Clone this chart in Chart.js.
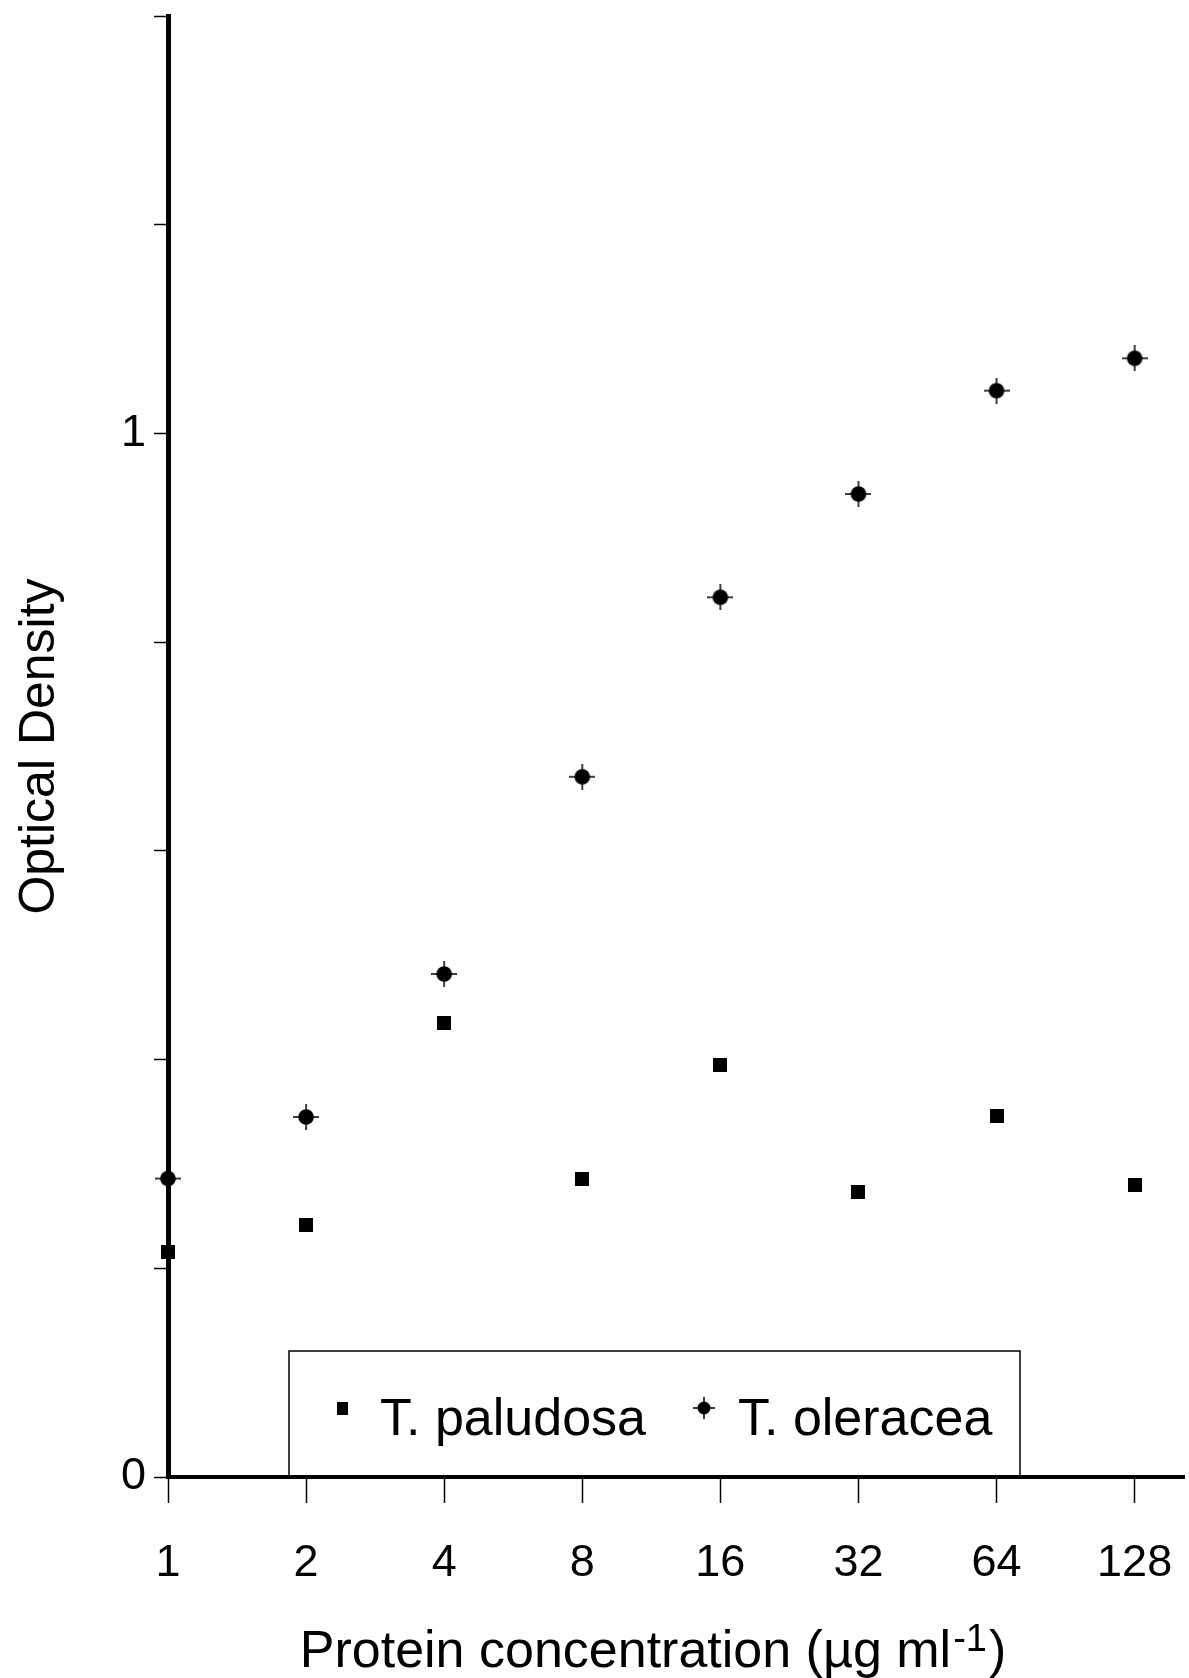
<!DOCTYPE html>
<html><head><meta charset="utf-8">
<script src="https://cdn.jsdelivr.net/npm/chart.js@4.4.0/dist/chart.umd.min.js"></script>
<style>html,body{margin:0;padding:0;background:#fff;overflow:hidden;}#wrap{width:1189px;height:1678px;}</style>
</head><body><div id="wrap"><canvas id="c" width="1189" height="1678"></canvas></div>
<script>
const concentrations = [1, 2, 4, 8, 16, 32, 64, 128];
const paludosa = [0.216, 0.241, 0.435, 0.286, 0.395, 0.273, 0.346, 0.280];
const oleracea = [0.286, 0.345, 0.482, 0.671, 0.843, 0.942, 1.041, 1.072];
const seriesNames = ['T. paludosa', 'T. oleracea'];
const xTickLabels = ['1', '2', '4', '8', '16', '32', '64', '128'];
const yTickValues = [0, 0.2, 0.4, 0.6, 0.8, 1.0, 1.2, 1.4];
const yTickLabels = ['0', '', '', '', '', '1', '', ''];
const xAxisTitle = 'Protein concentration (\u00b5g ml';
const xAxisTitleSup = '-1';
const xAxisTitleEnd = ')';
const yAxisTitle = 'Optical Density';

const FONT = '"Liberation Sans", Arial, Helvetica, sans-serif';

function makeCircleCross(size, r, lw) {
  const c = document.createElement('canvas');
  c.width = size; c.height = size;
  const g = c.getContext('2d');
  const m = size / 2;
  g.strokeStyle = '#000'; g.lineWidth = lw;
  g.beginPath(); g.moveTo(0, m); g.lineTo(size, m); g.moveTo(m, 0); g.lineTo(m, size); g.stroke();
  g.fillStyle = '#000';
  g.beginPath(); g.arc(m, m, r, 0, Math.PI * 2); g.fill();
  return c;
}
function makeSquare(w, h) {
  const c = document.createElement('canvas');
  c.width = w; c.height = h;
  const g = c.getContext('2d');
  g.fillStyle = '#000'; g.fillRect(0, 0, w, h);
  return c;
}
const circleImg = makeCircleCross(26, 7.8, 1.5);
const squareImg = makeSquare(14, 14);
const circleLegendImg = makeCircleCross(22, 6.5, 1.5);
const squareLegendImg = makeSquare(11, 13);

const customText = {
  id: 'customText',
  afterDraw(chart) {
    const ctx = chart.ctx;
    const ca = chart.chartArea;
    ctx.save();
    // legend box
    const bx0 = 289, bx1 = 1020, by0 = 1351, by1 = ca.bottom;
    ctx.strokeStyle = '#000'; ctx.lineWidth = 1.5;
    ctx.beginPath();
    ctx.moveTo(bx0, by1); ctx.lineTo(bx0, by0); ctx.lineTo(bx1, by0); ctx.lineTo(bx1, by1);
    ctx.stroke();
    ctx.fillStyle = '#000';
    ctx.font = '52px ' + FONT;
    ctx.textBaseline = 'alphabetic';
    ctx.textAlign = 'left';
    const legendImgs = [squareLegendImg, circleLegendImg];
    const imgX = [342, 704];
    const txtX = [380, 738];
    chart.data.datasets.forEach((ds, i) => {
      const im = legendImgs[i];
      ctx.drawImage(im, imgX[i] - im.width / 2, 1408 - im.height / 2);
      ctx.fillText(ds.label, txtX[i], 1435);
    });
    // x axis title with superscript
    ctx.font = '52px ' + FONT;
    const w1 = ctx.measureText(xAxisTitle).width;
    ctx.font = '38px ' + FONT;
    const w2 = ctx.measureText(xAxisTitleSup).width;
    ctx.font = '52px ' + FONT;
    const w3 = ctx.measureText(xAxisTitleEnd).width;
    const total = w1 + w2 + w3 + 4;
    let x = 653 - total / 2;
    ctx.fillText(xAxisTitle, x, 1667);
    x += w1 + 2;
    ctx.font = '38px ' + FONT;
    ctx.fillText(xAxisTitleSup, x, 1651);
    x += w2 + 2;
    ctx.font = '52px ' + FONT;
    ctx.fillText(xAxisTitleEnd, x, 1667);
    ctx.restore();
  }
};

new Chart(document.getElementById('c'), {
  type: 'scatter',
  data: {
    datasets: [
      {
        label: seriesNames[0],
        data: concentrations.map((c, i) => ({ x: c, y: paludosa[i] })),
        pointStyle: squareImg,
        backgroundColor: '#000', borderColor: '#000',
        showLine: false, clip: false
      },
      {
        label: seriesNames[1],
        data: concentrations.map((c, i) => ({ x: c, y: oleracea[i] })),
        pointStyle: circleImg,
        backgroundColor: '#000', borderColor: '#000',
        showLine: false, clip: false
      }
    ]
  },
  options: {
    responsive: false,
    animation: false,
    devicePixelRatio: 1,
    layout: { padding: { top: 16, right: 0, left: 0, bottom: 0 } },
    plugins: { legend: { display: false }, tooltip: { enabled: false } },
    scales: {
      x: {
        type: 'logarithmic',
        min: 1, max: 164,
        afterBuildTicks: s => { s.ticks = concentrations.map(v => ({ value: v })); },
        afterFit: s => { s.height = 201; s.paddingLeft = 0; s.paddingRight = 0; },
        ticks: {
          autoSkip: false, maxRotation: 0, minRotation: 0,
          color: '#000', padding: 34,
          font: { family: FONT, size: 45 },
          callback: (v, i) => xTickLabels[i]
        },
        grid: { drawOnChartArea: false, drawTicks: true, tickLength: 26, tickWidth: 1.5, tickColor: '#000' },
        border: { display: true, width: 4, color: '#000' }
      },
      y: {
        type: 'linear',
        min: 0, max: 1.4,
        afterBuildTicks: s => { s.ticks = yTickValues.map(v => ({ value: v })); },
        afterFit: s => { s.width = 168; s.paddingTop = 0; s.paddingBottom = 0; },
        ticks: {
          color: '#000', padding: 8,
          font: { family: FONT, size: 45 },
          callback: (v, i) => yTickLabels[i]
        },
        grid: { drawOnChartArea: false, drawTicks: true, tickLength: 14, tickWidth: 1.5, tickColor: '#000' },
        border: { display: true, width: 5, color: '#000' },
        title: {
          display: true, text: yAxisTitle, color: '#000',
          font: { family: FONT, size: 50 },
          padding: { top: 10, bottom: 0 }
        }
      }
    }
  },
  plugins: [customText]
});
</script></body></html>
